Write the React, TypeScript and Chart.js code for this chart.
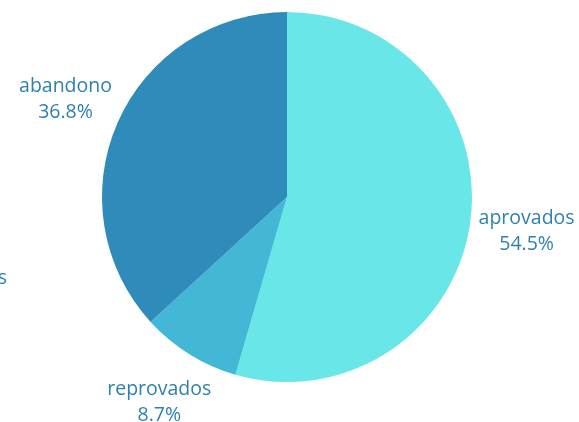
import React, { useEffect, useRef } from "react";
import { Chart, registerables } from "chart.js";

Chart.register(...registerables);

const categories = ["aprovados", "reprovados", "abandono"];
const values = [54.5, 8.7, 36.8];
const percentLabels = ["54.5%", "8.7%", "36.8%"];
const colors = ["#69e6e8", "#42b7d6", "#2e8bba"];
const labelColor = "#2f81ad";

const labelPlugin = {
  id: "outerLabels",
  afterDatasetsDraw(chart: any) {
    const ctx = chart.ctx;
    const meta = chart.getDatasetMeta(0);
    ctx.save();
    ctx.fillStyle = labelColor;
    ctx.font = '19.5px "Open Sans"';
    ctx.textAlign = "center";
    ctx.textBaseline = "middle";
    meta.data.forEach((arc: any, i: number) => {
      const mid = (arc.startAngle + arc.endAngle) / 2;
      const r = arc.outerRadius + 57;
      const x = arc.x + Math.cos(mid) * r;
      const y = arc.y + Math.sin(mid) * r;
      ctx.fillText(categories[i], x, y - 13);
      ctx.fillText(percentLabels[i], x, y + 13);
    });
    // partially visible text at far left edge
    ctx.textAlign = "right";
    ctx.fillText("s", 7, 278);
    ctx.restore();
  },
};

export default function App() {
  const ref = useRef<HTMLCanvasElement | null>(null);
  useEffect(() => {
    document.body.style.margin = "0";
    if (!ref.current) return;
    const chart = new Chart(ref.current, {
      type: "pie",
      data: {
        labels: categories,
        datasets: [
          {
            data: values,
            backgroundColor: colors,
            borderWidth: 0,
          },
        ],
      },
      options: {
        responsive: false,
        animation: false,
        layout: { padding: { top: 12, bottom: 40, left: 102, right: 107 } },
        plugins: {
          legend: { display: false },
          tooltip: { enabled: false },
        },
      },
      plugins: [labelPlugin],
    });
    return () => chart.destroy();
  }, []);
  return (
    <div style={{ position: "fixed", left: 0, top: 0, width: 579, height: 422, background: "#fff" }}>
      <canvas ref={ref} width={579} height={422} style={{ width: 579, height: 422 }} />
    </div>
  );
}
